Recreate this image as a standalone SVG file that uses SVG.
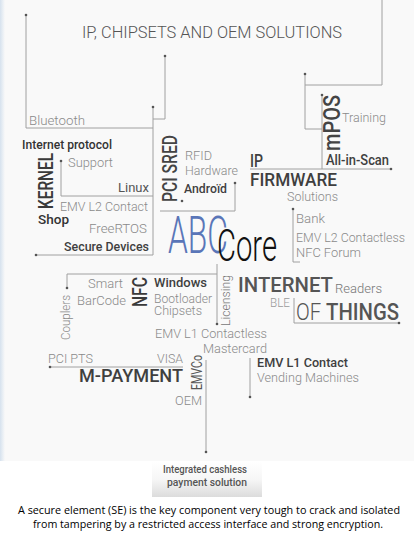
<svg xmlns="http://www.w3.org/2000/svg" width="415" height="535" viewBox="0 0 415 535">
<style>
text{font-family:Roboto,"Liberation Sans",sans-serif;}
.l{font-size:12.5px;font-weight:300;fill:#8a8a8a;}
.d{font-size:13px;font-weight:500;fill:#3f3f3f;}
.cap{font-family:"Open Sans","Noto Sans",sans-serif;font-size:11.5px;fill:#000;}
.ln{fill:none;stroke:#a0a0a0;stroke-width:1;}
.dot{fill:#555;}
</style>
<defs>
<linearGradient id="edge" x1="0" y1="0" x2="1" y2="0">
<stop offset="0" stop-color="#d6e2ee"/><stop offset="1" stop-color="#f9f9f9"/>
</linearGradient>
<linearGradient id="box" x1="0" y1="0" x2="0" y2="1">
<stop offset="0" stop-color="#ffffff"/><stop offset="0.5" stop-color="#f6f6f6"/><stop offset="1" stop-color="#dcdcdc"/>
</linearGradient>
</defs>
<rect x="0" y="0" width="415" height="535" fill="#ffffff"/>
<rect x="0" y="0" width="414" height="461" fill="#f9f9f9"/>
<rect x="0" y="0" width="5" height="461" fill="url(#edge)"/>
<rect x="152" y="462" width="110" height="35" fill="url(#box)"/>

<g id="connectors">
<path class="ln" d="M26,15 V128 H153"/>
<path class="ln" d="M165,56 V119 H153"/>
<path class="ln" d="M153,107 V255 H36"/>
<path class="ln" d="M61,161 V196 H153"/>
<path class="ln" d="M382,0 V85 H305"/>
<path class="ln" d="M305,74 V129 H322"/>
<path class="ln" d="M322,95 V169"/>
<path class="ln" d="M250,169 H391"/>
<path class="ln" d="M235,183 V211 H160"/>
<path class="ln" d="M293,209 V262 H300"/>
<path class="ln" d="M67,288 V274 H217"/>
<path class="ln" d="M217,264 V324"/>
<path class="ln" d="M294,298 V323 H399"/>
<path class="ln" d="M206,360 V452"/>
<path class="ln" d="M250,358 V397"/>
<path class="ln" d="M50,367 H183"/>
<circle class="dot" cx="26" cy="15" r="1.3"/>
<circle class="dot" cx="165" cy="56" r="1.3"/>
<circle class="dot" cx="153" cy="107" r="1.3"/>
<circle class="dot" cx="36" cy="255" r="1.3"/>
<circle class="dot" cx="61" cy="161" r="1.3"/>
<circle class="dot" cx="305" cy="74" r="1.3"/>
<circle class="dot" cx="322" cy="95" r="1.3"/>
<circle class="dot" cx="391" cy="169" r="1.3"/>
<circle class="dot" cx="235" cy="183" r="1.3"/>
<circle class="dot" cx="182" cy="201" r="1.3"/>
<circle class="dot" cx="293" cy="209" r="1.3"/>
<circle class="dot" cx="67" cy="288" r="1.3"/>
<circle class="dot" cx="217" cy="324" r="1.3"/>
<circle class="dot" cx="399" cy="323" r="1.3"/>
<circle class="dot" cx="206" cy="452" r="1.3"/>
<circle class="dot" cx="250" cy="397" r="1.3"/>
<circle class="dot" cx="50" cy="367" r="1.3"/>
</g>

<g id="title"><text x="82" y="38" style="font-size:16px;font-weight:300;fill:#555" textLength="260" lengthAdjust="spacingAndGlyphs">IP, CHIPSETS AND OEM SOLUTIONS</text></g>
<g id="bluetooth"><text class="l" x="29" y="125" style="font-size:13px" textLength="56" lengthAdjust="spacingAndGlyphs">Bluetooth</text></g>
<g id="mpos">
<text transform="translate(340,151) rotate(-90)" style="font-size:24px;font-weight:500;fill:#444" textLength="56" lengthAdjust="spacingAndGlyphs">mPOS</text>
<text class="l" x="342" y="122" style="font-size:13px" textLength="44" lengthAdjust="spacingAndGlyphs">Training</text>
<text class="d" x="326" y="165" style="font-size:14px" textLength="63" lengthAdjust="spacingAndGlyphs">All-in-Scan</text>
</g>
<g id="ip-firmware">
<text class="d" x="250" y="167" style="font-size:19px" textLength="13" lengthAdjust="spacingAndGlyphs">IP</text>
<text class="d" x="250" y="186" style="font-size:18px" textLength="87" lengthAdjust="spacingAndGlyphs">FIRMWARE</text>
<text class="l" x="287" y="201" style="font-size:13px" textLength="51" lengthAdjust="spacingAndGlyphs">Solutions</text>
</g>
<g id="bank">
<text class="l" x="296" y="223" textLength="29" lengthAdjust="spacingAndGlyphs">Bank</text>
<text class="l" x="296" y="242" textLength="109" lengthAdjust="spacingAndGlyphs">EMV L2 Contactless</text>
<text class="l" x="296" y="257" textLength="65" lengthAdjust="spacingAndGlyphs">NFC Forum</text>
</g>
<g id="kernel">
<text class="d" x="22" y="149" style="font-size:12.5px;fill:#333" textLength="90" lengthAdjust="spacingAndGlyphs">Internet protocol</text>
<text transform="translate(53,209) rotate(-90)" style="font-size:20px;font-weight:500;fill:#3a3a3a" textLength="56" lengthAdjust="spacingAndGlyphs">KERNEL</text>
<text class="l" x="68" y="167" textLength="45" lengthAdjust="spacingAndGlyphs">Support</text>
<text class="l" x="118" y="192" style="fill:#555;font-weight:400" textLength="31" lengthAdjust="spacingAndGlyphs">Linux</text>
<text class="l" x="60" y="211" textLength="88" lengthAdjust="spacingAndGlyphs">EMV L2 Contact</text>
<text class="d" x="38" y="224" style="fill:#333" textLength="31" lengthAdjust="spacingAndGlyphs">Shop</text>
<text class="l" x="89" y="233" textLength="58" lengthAdjust="spacingAndGlyphs">FreeRTOS</text>
<text class="d" x="64" y="251" textLength="85" lengthAdjust="spacingAndGlyphs">Secure Devices</text>
</g>
<g id="pci-sred">
<text transform="translate(177,202) rotate(-90)" style="font-size:20px;font-weight:500;fill:#444" textLength="67" lengthAdjust="spacingAndGlyphs">PCI SRED</text>
<text class="l" x="185" y="160" textLength="27" lengthAdjust="spacingAndGlyphs">RFID</text>
<text class="l" x="185" y="175" textLength="53" lengthAdjust="spacingAndGlyphs">Hardware</text>
<text class="d" x="184" y="193" textLength="43" lengthAdjust="spacingAndGlyphs">Androïd</text>
</g>
<g id="abc-core">
<text x="168" y="253" style="font-size:52px;font-weight:300;fill:#5a76b8" textLength="60" lengthAdjust="spacingAndGlyphs">ABC</text>
<text x="217" y="261" style="font-size:44px;font-weight:300;fill:#111" textLength="60" lengthAdjust="spacingAndGlyphs">Core</text>
</g>
<g id="nfc">
<text transform="translate(70,340) rotate(-90)" class="l" style="font-size:13px" textLength="45" lengthAdjust="spacingAndGlyphs">Couplers</text>
<text class="l" x="88" y="288" style="font-size:13px" textLength="35" lengthAdjust="spacingAndGlyphs">Smart</text>
<text class="l" x="77" y="305" style="font-size:13px" textLength="49" lengthAdjust="spacingAndGlyphs">BarCode</text>
<text transform="translate(147,307) rotate(-90)" style="font-size:20px;font-weight:500;fill:#3a3a3a" textLength="30" lengthAdjust="spacingAndGlyphs">NFC</text>
<text class="d" x="154" y="287" textLength="53" lengthAdjust="spacingAndGlyphs">Windows</text>
<text class="l" x="154" y="303" style="font-size:13px" textLength="58" lengthAdjust="spacingAndGlyphs">Bootloader</text>
<text class="l" x="154" y="315" style="font-size:13px" textLength="48" lengthAdjust="spacingAndGlyphs">Chipsets</text>
<text transform="translate(230,326) rotate(-90)" class="l" style="font-size:13px;fill:#777" textLength="51" lengthAdjust="spacingAndGlyphs">Licensing</text>
</g>
<g id="iot">
<text x="238" y="292" style="font-size:21px;font-weight:500;fill:#555" textLength="95" lengthAdjust="spacingAndGlyphs">INTERNET</text>
<text class="l" x="335" y="293" style="font-size:13px;fill:#777" textLength="47" lengthAdjust="spacingAndGlyphs">Readers</text>
<text class="l" x="270" y="307" style="fill:#999" textLength="20" lengthAdjust="spacingAndGlyphs">BLE</text>
<text x="296" y="320" style="font-size:24px;fill:#555" textLength="103" lengthAdjust="spacingAndGlyphs"><tspan style="font-weight:300">OF </tspan><tspan style="font-weight:500">THINGS</tspan></text>
</g>
<g id="emv-l1">
<text class="l" x="155" y="338" style="font-size:13px" textLength="112" lengthAdjust="spacingAndGlyphs">EMV L1 Contactless</text>
<text class="l" x="203" y="353" style="font-size:13px" textLength="64" lengthAdjust="spacingAndGlyphs">Mastercard</text>
<text class="d" x="257" y="367" textLength="91" lengthAdjust="spacingAndGlyphs">EMV L1 Contact</text>
<text class="l" x="257" y="382" style="font-size:13px" textLength="102" lengthAdjust="spacingAndGlyphs">Vending Machines</text>
</g>
<g id="m-payment">
<text class="l" x="48" y="363" style="font-size:13px" textLength="45" lengthAdjust="spacingAndGlyphs">PCI PTS</text>
<text class="l" x="157" y="363" style="font-size:13px" textLength="26" lengthAdjust="spacingAndGlyphs">VISA</text>
<text class="d" x="79" y="382" style="font-size:19px" textLength="104" lengthAdjust="spacingAndGlyphs">M-PAYMENT</text>
<text transform="translate(202,390) rotate(-90)" style="font-size:15px;font-weight:400;fill:#555" textLength="35" lengthAdjust="spacingAndGlyphs">EMVCo</text>
<text class="l" x="175" y="405" style="font-size:13px" textLength="27" lengthAdjust="spacingAndGlyphs">OEM</text>
</g>
<g id="integrated">
<text x="205" y="473" text-anchor="middle" style="font-size:11px;font-weight:500;fill:#555" textLength="84" lengthAdjust="spacingAndGlyphs">Integrated cashless</text>
<text x="207" y="486" text-anchor="middle" style="font-size:11px;font-weight:500;fill:#555" textLength="80" lengthAdjust="spacingAndGlyphs">payment solution</text>
</g>
<g id="caption">
<text class="cap" x="18" y="514" textLength="382" lengthAdjust="spacingAndGlyphs">A secure element (SE) is the key component very tough to crack and isolated</text>
<text class="cap" x="33" y="528" textLength="350" lengthAdjust="spacingAndGlyphs">from tampering by a restricted access interface and strong encryption.</text>
</g>
</svg>
